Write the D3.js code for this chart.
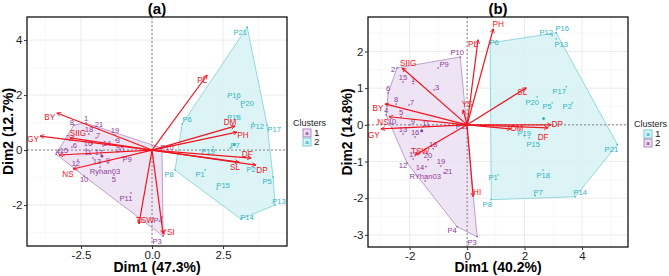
<!DOCTYPE html>
<html><head><meta charset="utf-8">
<script src="https://cdn.jsdelivr.net/npm/d3@7"></script>
<style>body{margin:0;background:#fff}svg{display:block;font-family:"Liberation Sans",Arial,sans-serif}</style>
</head><body><svg id="c" width="669" height="276"></svg>
<script>
// ---------------- Panel (a) data ----------------
const aGenoNames = ["1","8","21","19","18","7","3","2","6","16","14","4","15","11","17","20","12","13","9","P9","Ryhan03","5","10","P11","P4","P3","P10",
  "P21","P16","P20","P6","P18","P12","P17","P7","P19","P2","P8","P1","P15","P5","P13","P14"];
const aGenoX = [-2.32,-2.75,-1.87,-1.30,-2.22,-1.97,-1.27,-2.89,-2.82,-2.11,-1.73,-3.38,-3.10,-2.32,-1.94,-1.20,-2.61,-2.08,-1.55,-1.02,-1.83,-1.34,-2.39,-0.74,0.35,0.39,0.35,
  3.35,2.99,3.17,1.06,2.99,3.56,4.05,2.75,2.15,3.59,0.81,1.87,2.29,4.26,4.33,3.13];
const aGenoY = [0.98,0.91,0.76,0.55,0.58,0.44,0.36,0.36,0.11,0.22,0.15,-0.15,-0.18,0.04,0.0,-0.07,-0.36,-0.29,-0.47,-0.25,-0.62,-0.91,-0.95,-1.56,-2.44,-3.13,0.07,
  4.47,1.85,1.56,0.95,1.24,0.98,0.91,0.07,0.11,-0.51,-0.73,-0.73,-1.42,-0.98,-2.0,-2.51];
const aGenoCluster = ["1","1","1","1","1","1","1","1","1","1","1","1","1","1","1","1","1","1","1","1","1","1","1","1","1","1","1",
  "2","2","2","2","2","2","2","2","2","2","2","2","2","2","2","2"];
const aVarNames = ["BY","GY","SIIG","HI","NS","TSW","YSI","PL","DM","PH","DF","SL","DP"];
const aVarX = [-3.35,-3.94,-2.89,-3.27,-2.78,-0.46,0.39,1.94,2.92,2.99,3.49,3.06,3.66];
const aVarY = [1.35,0.51,0.44,-0.18,-0.69,-2.69,-3.05,2.73,0.87,0.65,-0.29,-0.44,-0.55];
const aXTicks = [-2.5,0,2.5];
const aXTickLabels = ["-2.5","0.0","2.5"];
const aYTicks = [-2,0,2,4];
const aYTickLabels = ["-2","0","2","4"];
const aClusters = ["1","2"];

// ---------------- Panel (b) data ----------------
const bGenoNames = ["2","15","1","3","6","8","7","4","5","9","11","13","16","18","17","20","19","12","14","21","RYhan03","10","P10","P9","P4","P3","P11",
  "P6","P12","P16","P13","P17","P20","P5","P2","P15","P21","P18","P7","P14","P1","P8","P19"];
const bGenoX = [-2.44,-2.23,-1.88,-1.15,-2.75,-2.47,-2.02,-2.82,-2.30,-1.99,-1.53,-2.23,-1.81,-1.18,-1.88,-1.36,-0.91,-2.09,-1.43,-0.80,-1.46,-2.61,-0.24,-1.01,-0.35,0.35,-0.07,
  0.80,2.96,3.10,3.10,3.45,2.44,2.96,3.66,2.16,5.23,2.65,2.37,3.76,1.08,0.84,1.99];
const bGenoY = [1.55,1.17,1.12,0.95,0.87,0.57,0.54,0.27,0.22,0.0,-0.05,-0.25,-0.33,-0.65,-0.93,-0.95,-1.12,-1.04,-1.14,-1.31,-1.53,0.02,1.85,1.55,-2.78,-3.05,0.03,
  2.23,2.43,2.51,2.34,1.04,0.76,0.60,0.60,-0.35,-0.54,-1.23,-1.93,-1.96,-1.36,-2.04,-0.30];
const bGenoCluster = ["2","2","2","2","2","2","2","2","2","2","2","2","2","2","2","2","2","2","2","2","2","2","2","2","2","2","2",
  "1","1","1","1","1","1","1","1","1","1","1","1","1","1","1","1"];
const bVarNames = ["PH","PL","SL","SIIG","BY","NS","GY","TSW","YS","HI","DM","DP","DF"];
const bVarX = [0.91,0.38,2.06,-2.26,-2.86,-2.72,-3.00,-1.81,-0.14,0.21,1.53,2.93,2.82];
const bVarY = [2.62,2.32,1.01,1.55,0.57,0.22,-0.11,-0.82,0.41,-1.96,-0.11,0.0,-0.08];
const bXTicks = [-2,0,2,4];
const bXTickLabels = ["-2","0","2","4"];
const bYTicks = [-3,-2,-1,0,1,2];
const bYTickLabels = ["-3","-2","-1","0","1","2"];
const bClusters = ["1","2"];

// ---------------- layout / style ----------------
const PURPLE = {text:"#8f3b9c", fill:"#ecdff1", stroke:"#a87bb8"};
const CYAN = {text:"#2fb3bd", fill:"#d6f2f5", stroke:"#6ccad2"};
const RED = "#f0141e";

const aGenoNudge = {"8":[-2,-3],"2":[-2,-3],"6":[3,-2],"7":[2,-3],"3":[2,0],"16":[-4,-1],"14":[4,-3],"4":[2,-3],"11":[2,3],"17":[2,2],"20":[2,-3],"12":[-2,3],"13":[4,3],"9":[0,-3],"P9":[4,2],"Ryhan03":[5,4],"5":[0,4],"10":[0,3],"P11":[-5,5],"P4":[-4,3],"P3":[-6,5],"P10":[5,-1],
  "P21":[-7,5],"P16":[-3,-4],"P20":[5,-4],"P6":[5,-5],"P18":[-3,1],"P12":[4,3],"P17":[7,4],"P7":[5,-3],"P19":[-5,4],"P2":[-3,5],"P8":[-6,4],"P1":[-5,4],"P15":[6,-4],"P5":[-6,4],"P13":[4,-4],"P14":[6,-2]};
const aVarNudge = {BY:[-7,4],GY:[-7,3],SIIG:[8,-5],NS:[-5,5],TSW:[6,-4],YSI:[5,-2],PL:[-5,5],DM:[-5,-4],PH:[6,3],DF:[-4,-4],SL:[-4,5],DP:[6,5]};
const bGenoNudge = {"2":[-4,1],"3":[3,-3],"7":[3,-3],"9":[3,-4],"11":[3,-3],"12":[-4,2],"14":[-6,1],"21":[4,-2],"RYhan03":[0,-5],"10":[0,-3],"P10":[-3,-5],"P9":[6,-4],"P4":[-5,4],"P3":[-5,6],"P11":[-3,3],
  "P6":[4,-1],"P12":[-6,-3],"P16":[6,-4],"P13":[5,5],"P17":[-7,5],"P20":[-5,5],"P5":[-5,4],"P2":[-5,4],"P15":[4,7],"P21":[-6,5],"P18":[0,5],"P7":[3,-3],"P14":[5,-4],"P1":[-5,3],"P8":[-4,5],"P19":[0,-3]};
const bVarNudge = {PH:[5,-5],PL:[-5,4],SL:[-4,4],SIIG:[6,-5],BY:[-7,4],NS:[-6,5],GY:[-7,6],TSW:[5,-4],YS:[4,-6],HI:[4,-5],DM:[6,-1],DP:[6,-1],DF:[-5,9]};

const svg = d3.select("#c");
const defs = svg.append("defs");
defs.append("marker").attr("id","arr").attr("viewBox","0 0 10 10").attr("refX",9).attr("refY",5)
  .attr("markerWidth",5).attr("markerHeight",5).attr("markerUnits","userSpaceOnUse").attr("orient","auto")
  .append("path").attr("d","M1,1 L9,5 L1,9").attr("fill","none").attr("stroke",RED).attr("stroke-width",1.6);

function drawPanel(p){
  const x = d3.scaleLinear().domain(p.xDom).range([p.left,p.right]);
  const y = d3.scaleLinear().domain(p.yDom).range([p.bottom,p.top]);
  const g = svg.append("g");
  const cid = "clip"+p.id;
  defs.append("clipPath").attr("id",cid).append("rect")
    .attr("x",p.left).attr("y",p.top).attr("width",p.right-p.left).attr("height",p.bottom-p.top);
  const plot = g.append("g").attr("clip-path",`url(#${cid})`);

  // grid
  const xs = p.xTicks[1]-p.xTicks[0], ys = p.yTicks[1]-p.yTicks[0];
  const xMinor = d3.range(p.xTicks[0]-xs*3.5, p.xTicks[p.xTicks.length-1]+xs*3, xs);
  const yMinor = d3.range(p.yTicks[0]-ys*3.5, p.yTicks[p.yTicks.length-1]+ys*3, ys);
  const xMajor = d3.range(p.xTicks[0]-xs*3, p.xTicks[p.xTicks.length-1]+xs*3, xs);
  const yMajor = d3.range(p.yTicks[0]-ys*3, p.yTicks[p.yTicks.length-1]+ys*3, ys);
  plot.selectAll(".gxm").data(xMinor).join("line").attr("x1",d=>x(d)).attr("x2",d=>x(d)).attr("y1",p.top).attr("y2",p.bottom).attr("stroke","#f3f3f3").attr("stroke-width",0.6);
  plot.selectAll(".gym").data(yMinor).join("line").attr("y1",d=>y(d)).attr("y2",d=>y(d)).attr("x1",p.left).attr("x2",p.right).attr("stroke","#f3f3f3").attr("stroke-width",0.6);
  plot.selectAll(".gx").data(xMajor).join("line").attr("x1",d=>x(d)).attr("x2",d=>x(d)).attr("y1",p.top).attr("y2",p.bottom).attr("stroke","#e6e6e6").attr("stroke-width",0.8);
  plot.selectAll(".gy").data(yMajor).join("line").attr("y1",d=>y(d)).attr("y2",d=>y(d)).attr("x1",p.left).attr("x2",p.right).attr("stroke","#e6e6e6").attr("stroke-width",0.8);

  const geno = p.names.map((n,i)=>({name:n, x:p.gx[i], y:p.gy[i], cl:p.gcl[i]}));
  const vars = p.vnames.map((n,i)=>({name:n, x:p.vx[i], y:p.vy[i]}));

  // hulls
  p.clusters.forEach(cl=>{
    const col = p.colors[cl];
    const pts = geno.filter(d=>d.cl===cl).map(d=>[x(d.x),y(d.y)]);
    const hull = d3.polygonHull(pts);
    plot.append("path").attr("d","M"+hull.join("L")+"Z")
      .attr("fill",col.fill).attr("fill-opacity",0.85).attr("stroke",col.stroke).attr("stroke-width",0.7);
  });

  // zero lines
  plot.append("line").attr("x1",x(0)).attr("x2",x(0)).attr("y1",p.top).attr("y2",p.bottom)
    .attr("stroke","#555").attr("stroke-width",0.7).attr("stroke-dasharray","2,2");
  plot.append("line").attr("y1",y(0)).attr("y2",y(0)).attr("x1",p.left).attr("x2",p.right)
    .attr("stroke","#555").attr("stroke-width",0.7).attr("stroke-dasharray","2,2");

  // points
  plot.selectAll(".pt").data(geno).join("circle").attr("cx",d=>x(d.x)).attr("cy",d=>y(d.y)).attr("r",0.8)
    .attr("fill",d=>p.colors[d.cl].text);
  p.clusters.forEach(cl=>{
    const sub = geno.filter(d=>d.cl===cl);
    plot.append("circle").attr("cx",x(d3.mean(sub,d=>d.x))).attr("cy",y(d3.mean(sub,d=>d.y))).attr("r",1.5)
      .attr("fill",p.colors[cl].text);
  });
  plot.selectAll(".gl").data(geno).join("text")
    .attr("x",d=>x(d.x)+(p.gNudge[d.name]||[0,-4.5])[0])
    .attr("y",d=>y(d.y)+(p.gNudge[d.name]||[0,-4.5])[1])
    .attr("dy","0.35em").attr("text-anchor","middle").attr("font-size",7.6)
    .attr("fill",d=>p.colors[d.cl].text).text(d=>d.name);

  // arrows
  plot.selectAll(".ar").data(vars).join("line")
    .attr("x1",x(0)).attr("y1",y(0)).attr("x2",d=>x(d.x)).attr("y2",d=>y(d.y))
    .attr("stroke",RED).attr("stroke-width",1.2).attr("marker-end","url(#arr)");
  plot.selectAll(".vl").data(vars.filter(d=>p.vNudge[d.name])).join("text")
    .attr("x",d=>x(d.x)+p.vNudge[d.name][0]).attr("y",d=>y(d.y)+p.vNudge[d.name][1])
    .attr("dy","0.35em").attr("text-anchor","middle").attr("font-size",8.2)
    .attr("fill",RED).text(d=>d.name);

  // border
  g.append("rect").attr("x",p.left).attr("y",p.top).attr("width",p.right-p.left).attr("height",p.bottom-p.top)
    .attr("fill","none").attr("stroke","#111").attr("stroke-width",1.3);

  // axes
  const ax = g.append("g").attr("transform",`translate(0,${p.bottom})`)
    .call(d3.axisBottom(x).tickValues(p.xTicks).tickFormat((d,i)=>p.xTickLabels[i]).tickSize(3).tickSizeOuter(0).tickPadding(1.5));
  const ay = g.append("g").attr("transform",`translate(${p.left},0)`)
    .call(d3.axisLeft(y).tickValues(p.yTicks).tickFormat((d,i)=>p.yTickLabels[i]).tickSize(3).tickSizeOuter(0).tickPadding(1.5));
  [ax,ay].forEach(a=>{
    a.select(".domain").remove();
    a.selectAll("line").attr("stroke","#333");
    a.selectAll("text").attr("font-size",11.5).attr("fill","#222").attr("font-family","Liberation Sans, Arial, sans-serif");
  });

  // titles
  g.append("text").attr("x",(p.left+p.right)/2).attr("y",14).attr("text-anchor","middle")
    .attr("font-size",15).attr("font-weight","bold").text(p.title);
  g.append("text").attr("x",(p.left+p.right)/2).attr("y",272).attr("text-anchor","middle")
    .attr("font-size",14).attr("font-weight","bold").text(p.xLabel);
  g.append("text").attr("transform",`translate(${p.yLabelX},${(p.top+p.bottom)/2}) rotate(-90)`)
    .attr("text-anchor","middle").attr("font-size",14).attr("font-weight","bold").text(p.yLabel);

  // legend
  const lg = g.append("g").attr("transform",`translate(${p.legX},${p.legY})`);
  lg.append("text").attr("x",0).attr("y",0).attr("dy","0.35em").attr("font-size",9).attr("fill","#222").text("Clusters");
  p.clusters.forEach((cl,i)=>{
    const col = p.colors[cl];
    const cy = 10 + i*9;
    lg.append("rect").attr("x",10).attr("y",cy-4).attr("width",8).attr("height",8)
      .attr("fill",col.fill).attr("stroke",col.stroke).attr("stroke-width",0.9);
    lg.append("text").attr("x",14).attr("y",cy).attr("dy","0.35em").attr("text-anchor","middle")
      .attr("font-size",6).attr("font-weight","bold").attr("fill",col.text).text("a");
    lg.append("text").attr("x",21).attr("y",cy).attr("dy","0.35em").attr("font-size",9.8).attr("fill","#222").text(cl);
  });
}

drawPanel({id:"a", title:"(a)", xLabel:"Dim1 (47.3%)", yLabel:"Dim2 (12.7%)",
  left:27, right:287, top:17, bottom:246, xDom:[-4.4,4.75], yDom:[-3.49,4.84], yLabelX:13,
  xTicks:aXTicks, xTickLabels:aXTickLabels, yTicks:aYTicks, yTickLabels:aYTickLabels,
  names:aGenoNames, gx:aGenoX, gy:aGenoY, gcl:aGenoCluster,
  vnames:aVarNames, vx:aVarX, vy:aVarY, gNudge:aGenoNudge, vNudge:aVarNudge,
  clusters:aClusters, colors:{"1":PURPLE,"2":CYAN}, legX:293, legY:123});

drawPanel({id:"b", title:"(b)", xLabel:"Dim1 (40.2%)", yLabel:"Dim2 (14.8%)",
  left:368, right:628, top:17, bottom:247, xDom:[-3.45,5.6], yDom:[-3.33,2.94], yLabelX:352,
  xTicks:bXTicks, xTickLabels:bXTickLabels, yTicks:bYTicks, yTickLabels:bYTickLabels,
  names:bGenoNames, gx:bGenoX, gy:bGenoY, gcl:bGenoCluster,
  vnames:bVarNames, vx:bVarX, vy:bVarY, gNudge:bGenoNudge, vNudge:bVarNudge,
  clusters:bClusters, colors:{"1":CYAN,"2":PURPLE}, legX:634, legY:124});
</script>
</body></html>
